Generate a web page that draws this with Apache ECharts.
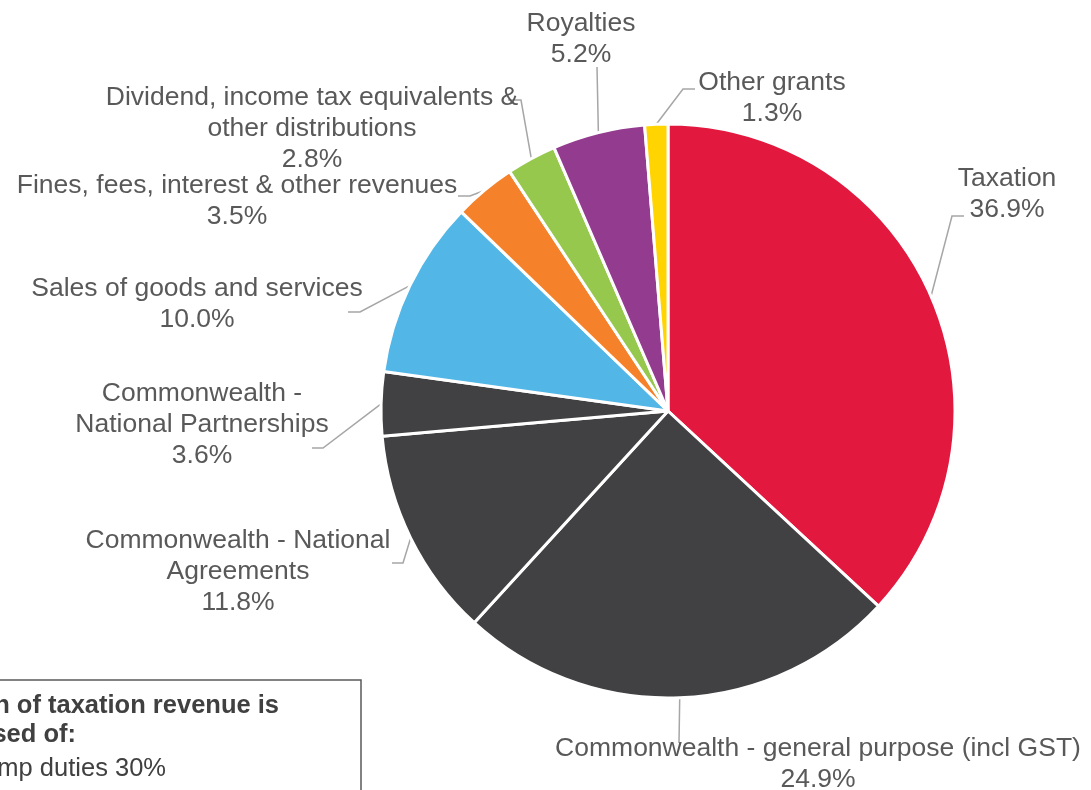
<!DOCTYPE html>
<html>
<head>
<meta charset="utf-8">
<title>Revenue composition</title>
<script src="https://cdn.jsdelivr.net/npm/echarts@6/dist/echarts.min.js"></script>
<style>
  html, body { margin: 0; padding: 0; background: #ffffff; }
  #chart { width: 1091px; height: 790px; }
</style>
</head>
<body>
<div id="chart"></div>
<script>
// Revenue sources, clockwise from 12 o'clock
const categories = [
  'Taxation',
  'Commonwealth - general purpose (incl GST)',
  'Commonwealth - National\nAgreements',
  'Commonwealth -\nNational Partnerships',
  'Sales of goods and services',
  'Fines, fees, interest & other revenues',
  'Dividend, income tax equivalents &\nother distributions',
  'Royalties',
  'Other grants'
];
// Share of total revenue, per cent
const shares = [36.9, 24.9, 11.8, 3.6, 10.0, 3.5, 2.8, 5.2, 1.3];

// Note box text (taxation breakdown)
const noteLines = [
  'Composition of taxation revenue is',
  'comprised of:',
  'Stamp duties 30%'
];

const sliceColors = [
  '#E2183E', '#414143', '#414143', '#414143',
  '#52B7E6', '#F5822A', '#96C84E', '#933B8E', '#FFD400'
];

// Label placement: text block centre plus the elbow/end of each leader line
const labelSpots = [
  { x: 1007, y: 194, elbow: [952, 216], end: [964, 216] },
  { x: 818,  y: 764, elbow: [679, 743], end: [679, 743] },
  { x: 238,  y: 572, elbow: [403, 563], end: [392, 563] },
  { x: 202,  y: 425, elbow: [323, 448], end: [312, 448] },
  { x: 197,  y: 304, elbow: [360, 312], end: [348, 312] },
  { x: 237,  y: 201, elbow: [470, 196], end: [458, 196] },
  { x: 312,  y: 129, elbow: [521, 100], end: [508, 100] },
  { x: 581,  y: 39,  elbow: [597, 67],  end: [597, 67] },
  { x: 772,  y: 98,  elbow: [683, 89],  end: [695, 89] }
];

const CX = 668, CY = 411, R = 287;

const pieData = categories.map((name, i) => ({
  name: name,
  value: shares[i],
  itemStyle: { color: sliceColors[i] }
}));

const chart = echarts.init(document.getElementById('chart'), null, { renderer: 'canvas' });

chart.setOption({
  backgroundColor: '#ffffff',
  animation: false,
  series: [{
    type: 'pie',
    center: [CX, CY],
    radius: R,
    startAngle: 90,
    clockwise: true,
    avoidLabelOverlap: false,
    data: pieData,
    itemStyle: { borderColor: '#ffffff', borderWidth: 3 },
    emphasis: { disabled: true },
    label: {
      show: true,
      position: 'outside',
      formatter: (p) => p.name + '\n' + p.value.toFixed(1) + '%',
      color: '#595959',
      fontFamily: '"Liberation Sans", Arial, sans-serif',
      fontSize: 26.5,
      lineHeight: 31,
      align: 'center'
    },
    labelLine: {
      show: true,
      length: 20,
      length2: 10,
      lineStyle: { color: '#A6A6A6', width: 1.5 }
    },
    labelLayout: function (params) {
      const s = labelSpots[params.dataIndex];
      let start;
      if (params.labelLinePoints && params.labelLinePoints[0]) {
        start = params.labelLinePoints[0];
      } else {
        start = [CX, CY];
      }
      return {
        x: s.x,
        y: s.y,
        align: 'center',
        verticalAlign: 'middle',
        labelLinePoints: [start, s.elbow, s.end]
      };
    }
  }],
  graphic: [
    {
      type: 'rect',
      z: 10,
      shape: { x: -20, y: 680, width: 381, height: 160 },
      style: { fill: '#ffffff', stroke: '#595959', lineWidth: 1.5 }
    },
    {
      type: 'text', z: 11,
      style: {
        text: noteLines[0], x: 279, y: 706, align: 'right', verticalAlign: 'middle',
        font: 'bold 25.5px "Liberation Sans", Arial, sans-serif', fill: '#404040'
      }
    },
    {
      type: 'text', z: 11,
      style: {
        text: noteLines[1], x: 76, y: 735, align: 'right', verticalAlign: 'middle',
        font: 'bold 25.5px "Liberation Sans", Arial, sans-serif', fill: '#404040'
      }
    },
    {
      type: 'text', z: 11,
      style: {
        text: noteLines[2], x: 166, y: 769, align: 'right', verticalAlign: 'middle',
        font: '25.5px "Liberation Sans", Arial, sans-serif', fill: '#404040'
      }
    }
  ]
});
</script>
</body>
</html>
